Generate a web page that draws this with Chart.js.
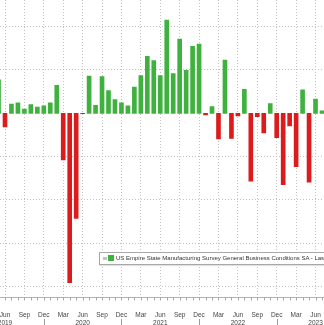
<!DOCTYPE html>
<html>
<head>
<meta charset="utf-8">
<script src="https://cdn.jsdelivr.net/npm/chart.js@4/dist/chart.umd.min.js"></script>
<style>
  html, body { margin: 0; padding: 0; background: #fff; overflow: hidden; }
  #wrap { position: relative; width: 324px; height: 325px; }
  #legend {
    position: absolute; left: 99px; top: 252px; width: 260px; height: 11px;
    background: #fff; border: 1px solid #a8a8a8; box-shadow: 0 1px 1px rgba(0,0,0,0.12);
    font: 6px "Liberation Sans", Arial, sans-serif; color: #333; white-space: nowrap;
    line-height: 11px;
  }
  #legend .neg { display: inline-block; width: 4px; height: 3px; background: #b9c9b9; margin: 0 1px 0 3px; vertical-align: middle; }
  #legend .pos { display: inline-block; width: 6px; height: 6px; background: #3fb13f; margin-right: 2px; vertical-align: middle; }
</style>
</head>
<body>
<div id="wrap">
  <canvas id="esChart"></canvas>
  <div id="legend"><span class="neg"></span><span class="pos"></span>US Empire State Manufacturing Survey General Business Conditions SA - Last Price</div>
</div>
<script>
const months = [
    'May 2019', 'Jun 2019', 'Jul 2019', 'Aug 2019', 'Sep 2019', 'Oct 2019', 'Nov 2019', 'Dec 2019',
    'Jan 2020', 'Feb 2020', 'Mar 2020', 'Apr 2020', 'May 2020', 'Jun 2020', 'Jul 2020', 'Aug 2020',
    'Sep 2020', 'Oct 2020', 'Nov 2020', 'Dec 2020', 'Jan 2021', 'Feb 2021', 'Mar 2021', 'Apr 2021',
    'May 2021', 'Jun 2021', 'Jul 2021', 'Aug 2021', 'Sep 2021', 'Oct 2021', 'Nov 2021', 'Dec 2021',
    'Jan 2022', 'Feb 2022', 'Mar 2022', 'Apr 2022', 'May 2022', 'Jun 2022', 'Jul 2022', 'Aug 2022',
    'Sep 2022', 'Oct 2022', 'Nov 2022', 'Dec 2022', 'Jan 2023', 'Feb 2023', 'Mar 2023', 'Apr 2023',
    'May 2023', 'Jun 2023', 'Jul 2023'
];
const businessConditions = [
    15.4, -6.3, 4.3, 4.8, 2.0, 4.0, 2.9, 3.5,
    4.8, 12.9, -21.5, -78.2, -48.5, -0.2, 17.2, 3.7,
    17.0, 10.5, 6.3, 4.9, 3.5, 12.1, 17.4, 26.3,
    24.3, 17.4, 43.0, 18.3, 34.3, 19.8, 30.9, 31.9,
    -0.7, 3.1, -11.8, 24.6, -11.6, -1.2, 11.1, -31.3,
    -1.5, -9.1, 4.5, -11.2, -32.9, -5.8, -24.6, 10.8,
    -31.8, 6.6, 1.1
];
const quarterMonths = ['Mar', 'Jun', 'Sep', 'Dec'];
const yGridValues = [-80, -60, -40, -20, 20, 40];

const GREEN = '#3fb13f';
const RED = '#dc1c1c';
const GRID = '#c2c2c2';

const isQuarter = i => quarterMonths.includes(months[i].slice(0, 3));

// monthly tick marks under the axis and year splits below each December
const axisMarks = {
    id: 'axisMarks',
    afterDraw(chart) {
        const x = chart.scales.x;
        const bottom = chart.chartArea.bottom;
        const ctx = chart.ctx;
        ctx.save();
        ctx.lineWidth = 1;
        months.forEach((m, i) => {
            const px = Math.round(x.getPixelForValue(i)) + 0.5;
            ctx.strokeStyle = '#a8a8a8';
            ctx.beginPath();
            ctx.moveTo(px, bottom);
            ctx.lineTo(px, bottom + 3);
            ctx.stroke();
            if (m.startsWith('Dec')) {
                ctx.strokeStyle = '#9a9a9a';
                ctx.beginPath();
                ctx.moveTo(px, 319);
                ctx.lineTo(px, chart.height);
                ctx.stroke();
            }
        });
        ctx.restore();
    }
};

const ctx = document.getElementById('esChart').getContext('2d');
new Chart(ctx, {
    type: 'bar',
    data: {
        datasets: [{
            data: businessConditions.map((v, i) => ({ x: i, y: v })),
            backgroundColor: businessConditions.map(v => v >= 0 ? GREEN : RED),
            borderWidth: 0,
            barThickness: 4
        }]
    },
    plugins: [axisMarks],
    options: {
        responsive: true,
        maintainAspectRatio: false,
        animation: false,
        layout: { padding: 0 },
        plugins: { legend: { display: false }, tooltip: { enabled: false } },
        scales: {
            x: {
                type: 'linear',
                offset: false,
                min: 0.227,
                max: 50.31,
                afterBuildTicks(s) {
                    s.ticks = months.map((_, i) => i).filter(isQuarter).map(i => ({ value: i }));
                },
                afterFit(s) {
                    s.height = 27.5;
                    s.paddingLeft = 0;
                    s.paddingRight = 0;
                },
                ticks: {
                    autoSkip: false,
                    maxRotation: 0,
                    padding: 14,
                    color: '#444',
                    font: { family: 'Liberation Sans', size: 6.5, lineHeight: 1.15 },
                    callback(v) {
                        const [m, y] = months[v].split(' ');
                        return m === 'Jun' ? [m, y] : m;
                    }
                },
                grid: { color: GRID, drawTicks: false, offset: false },
                border: { display: true, color: '#b0b0b0', dash: [1, 2] }
            },
            y: {
                min: -85,
                max: 52.3,
                afterBuildTicks(s) {
                    s.ticks = yGridValues.map(v => ({ value: v }));
                },
                afterFit(s) {
                    s.width = 0;
                    s.paddingTop = 0;
                    s.paddingBottom = 0;
                },
                ticks: { display: false },
                grid: { color: GRID, drawTicks: false },
                border: { display: false, dash: [1, 2] }
            }
        }
    }
});
</script>
</body>
</html>
